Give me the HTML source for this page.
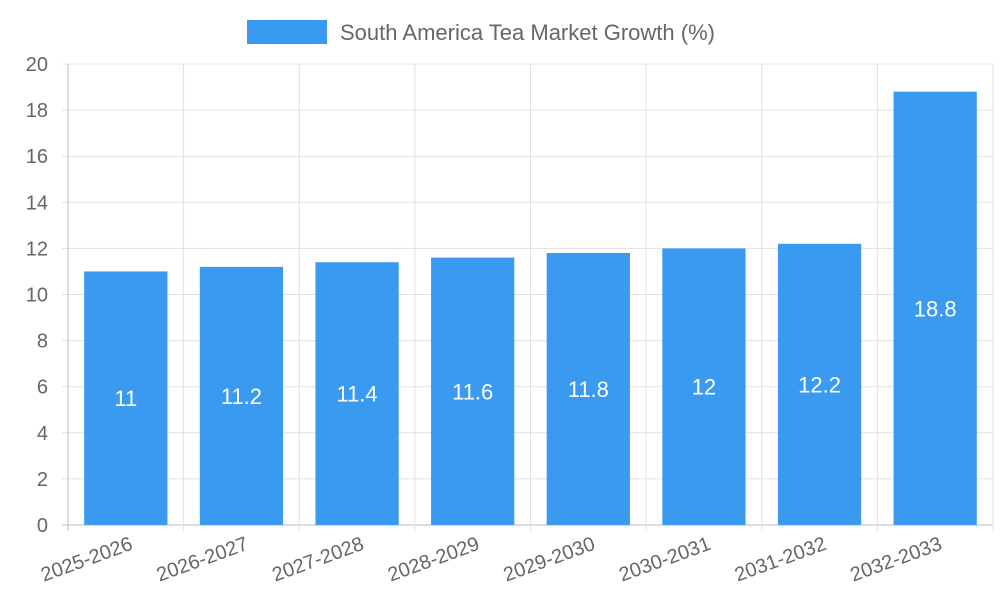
<!DOCTYPE html>
<html><head><meta charset="utf-8"><style>
html,body{margin:0;padding:0;background:#fff;}
svg{display:block;font-family:"Liberation Sans",sans-serif;}
</style></head><body>
<svg id="chart" width="1000" height="600">
  <g id="legend">
    <rect x="247" y="20" width="80" height="24" fill="#3a9af0"/>
    <text x="340" y="40" font-size="22" fill="#666">South America Tea Market Growth (%)</text>
  </g>
  <g id="grid"></g>
  <g id="bars"></g>
  <g id="axes"></g>
</svg>
<script>
const categories = ["2025-2026","2026-2027","2027-2028","2028-2029","2029-2030","2030-2031","2031-2032","2032-2033"];
const values = [11, 11.2, 11.4, 11.6, 11.8, 12, 12.2, 18.8];
const yTicks = [0,2,4,6,8,10,12,14,16,18,20];

const NS="http://www.w3.org/2000/svg";
const L=68,R=993,T=64,B=525,yMax=20;
const band=(R-L)/categories.length;
const y=v=>B-(v/yMax)*(B-T);
const xStart=i=>L+i*band;
function mk(tag,attrs,parent){const e=document.createElementNS(NS,tag);for(const k in attrs)e.setAttribute(k,attrs[k]);parent.appendChild(e);return e;}
const grid=document.getElementById('grid'),bars=document.getElementById('bars'),axes=document.getElementById('axes');

yTicks.forEach(t=>{
  const ln=mk('line',{x1:L-6,x2:R,y1:y(t),y2:y(t),stroke:t===0?'#bbb':'#e0e0e0','stroke-width':1},grid);
  
  
  const tx=mk('text',{x:L-20,y:y(t)+7,'text-anchor':'end','font-size':20,fill:'#666'},axes);
  tx.textContent=t;
  
  
});
for(let i=0;i<=categories.length;i++){
  const ln=mk('line',{x1:xStart(i),x2:xStart(i),y1:T,y2:B+6,stroke:i===0?'#bbb':'#e0e0e0','stroke-width':1},grid);
  
  
}
categories.forEach((c,i)=>{
  const bw=band*0.72, x0=xStart(i)+(band-bw)/2, v=values[i];
  const r=mk('rect',{x:x0,y:y(v),width:bw,height:B-y(v),fill:'#3a9af0'},bars);
  
  
  const vt=mk('text',{x:x0+bw/2,y:(y(v)+B)/2+8,'text-anchor':'middle','font-size':22,fill:'#fff'},bars);
  vt.textContent=v;
  
  
  const cx=xStart(i)+band/2+8, cy=B+24;
  const lt=mk('text',{x:cx,y:cy,'text-anchor':'end','font-size':20,fill:'#666',transform:`rotate(-20 ${cx} ${cy})`},axes);
  lt.textContent=c;
  
  
});
</script>
</body></html>
